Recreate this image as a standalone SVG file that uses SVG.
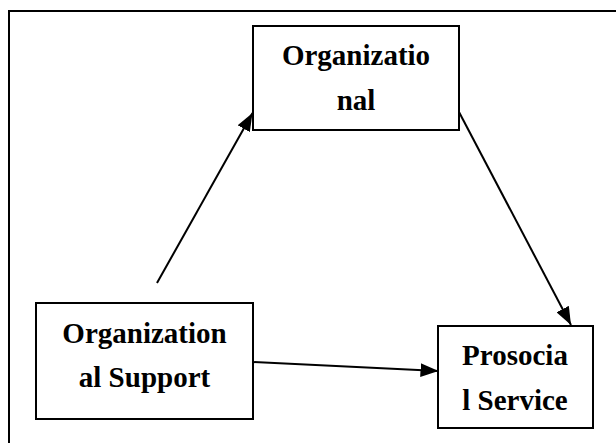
<svg xmlns="http://www.w3.org/2000/svg" width="616" height="443" viewBox="0 0 616 443">
<style>
.box{fill:#fff;stroke:#000;stroke-width:2}
.lbl{font-family:"Liberation Serif","Times New Roman",serif;font-weight:bold;font-size:29px;fill:#000;text-anchor:middle}
.edge{fill:none;stroke:#000;stroke-width:2}
.frame{fill:none;stroke:#000;stroke-width:2}
</style>
<defs>
<marker id="ah" markerUnits="userSpaceOnUse" markerWidth="20" markerHeight="14" refX="18" refY="7" orient="auto">
<path d="M0,0 L18,7 L0,14 Z" fill="#000"/>
</marker>
</defs>
<rect width="616" height="443" fill="#fff"/>
<path class="frame" d="M9,443 V11 H616"/>
<g id="connectors">
<line class="edge" x1="157" y1="283" x2="252.5" y2="113" marker-end="url(#ah)"/>
<line class="edge" x1="459" y1="112" x2="571" y2="325" marker-end="url(#ah)"/>
<line class="edge" x1="253" y1="362" x2="438.5" y2="371" marker-end="url(#ah)"/>
</g>
<g id="organizational">
<rect class="box" x="253" y="26" width="206" height="104"/>
<text class="lbl" x="356" y="65">Organizatio</text>
<text class="lbl" x="356" y="110">nal</text>
</g>
<g id="organizational-support">
<rect class="box" x="36" y="303" width="217" height="116"/>
<text class="lbl" x="144.5" y="343">Organization</text>
<text class="lbl" x="144.5" y="387">al Support</text>
</g>
<g id="prosocial-service">
<rect class="box" x="438" y="326" width="155" height="102"/>
<text class="lbl" x="515" y="365">Prosocia</text>
<text class="lbl" x="515" y="410">l Service</text>
</g>
</svg>
